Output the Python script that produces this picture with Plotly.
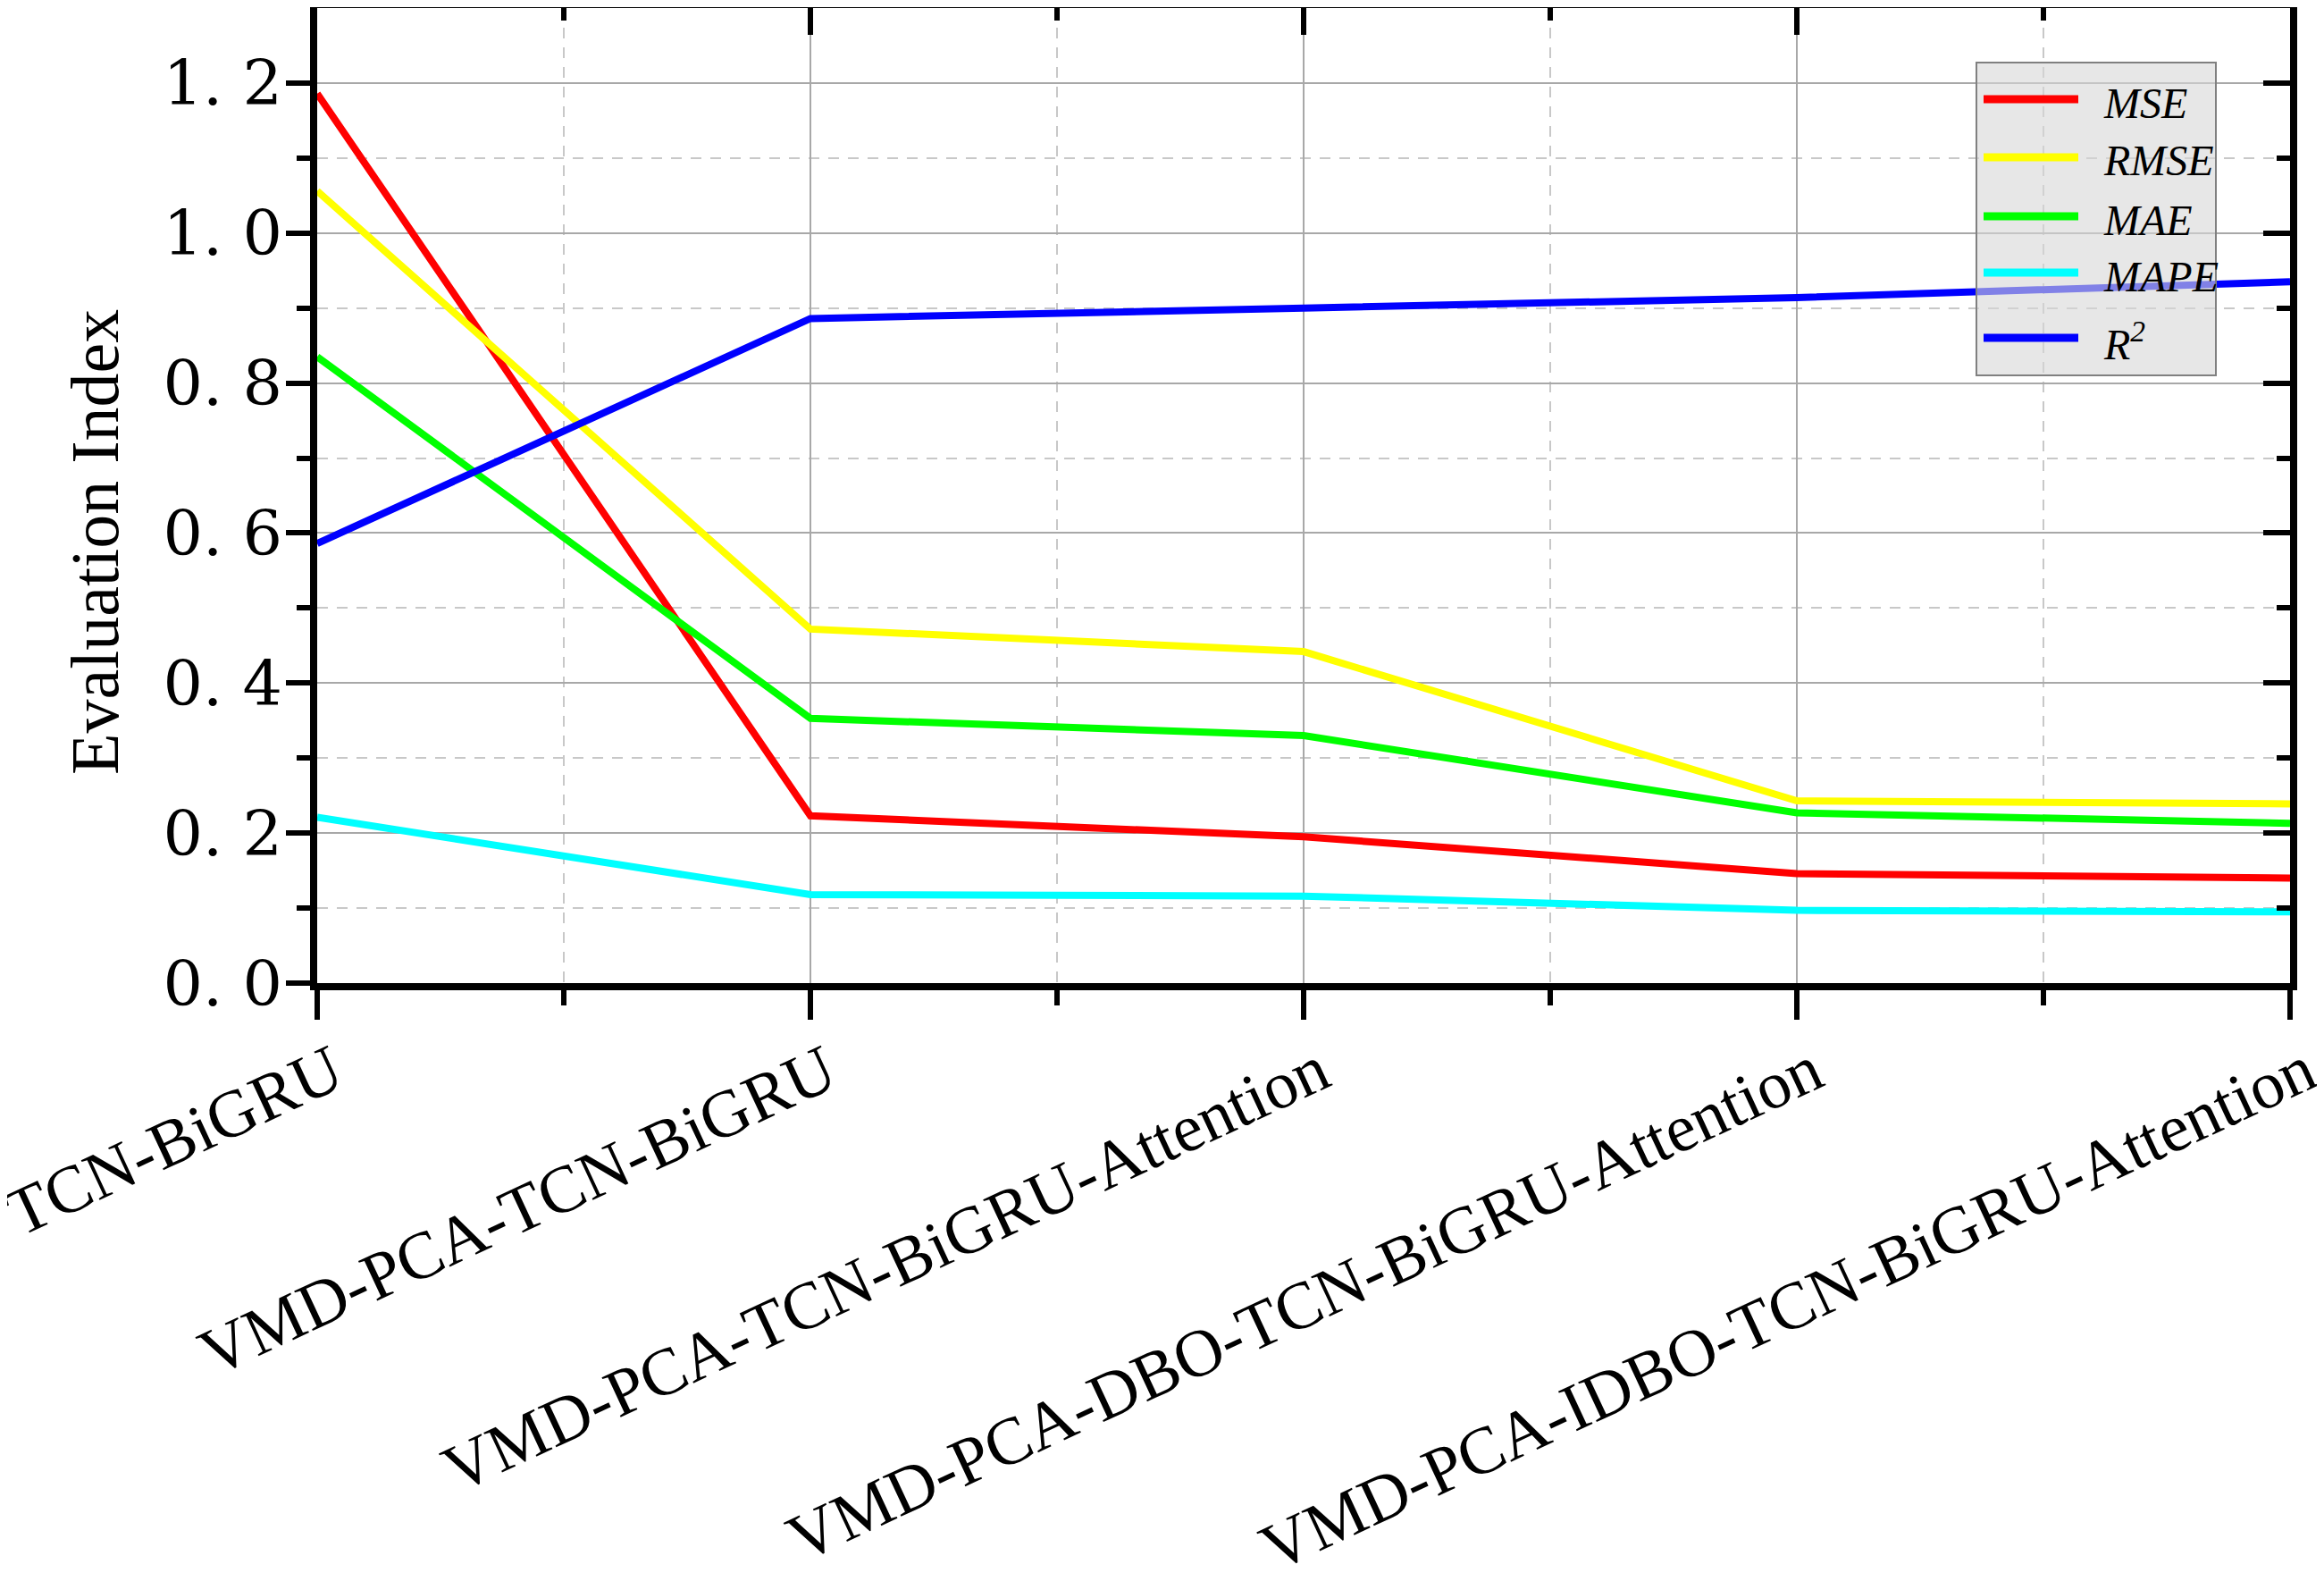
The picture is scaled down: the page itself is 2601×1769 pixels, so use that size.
import plotly.graph_objects as go

models = ["TCN-BiGRU", "VMD-PCA-TCN-BiGRU", "VMD-PCA-TCN-BiGRU-Attention",
          "VMD-PCA-DBO-TCN-BiGRU-Attention", "VMD-PCA-IDBO-TCN-BiGRU-Attention"]
mse = [1.186, 0.223, 0.195, 0.146, 0.140]
rmse = [1.056, 0.472, 0.442, 0.243, 0.239]
mae = [0.835, 0.353, 0.330, 0.227, 0.213]
mape = [0.221, 0.118, 0.116, 0.097, 0.095]
r2 = [0.586, 0.886, 0.900, 0.914, 0.935]
series_names = ["MSE", "RMSE", "MAE", "MAPE", "R<sup>2</sup>"]
series_values = [mse, rmse, mae, mape, r2]
colors = ["#ff0000", "#ffff00", "#00ff00", "#00ffff", "#0000ff"]
y_ticks = [0.0, 0.2, 0.4, 0.6, 0.8, 1.0, 1.2]
y_ticktext = ["0. 0", "0. 2", "0. 4", "0. 6", "0. 8", "1. 0", "1. 2"]

# page body has an 8px margin; layout is given in screen pixels and shifted
OFF = 8
W, H = 2601 - OFF, 1769 - OFF
SL, SR, ST, SB = 355, 2563, 9, 1100
xi = list(range(len(models)))

fig = go.Figure()
for name, vals, c in zip(series_names, series_values, colors):
    fig.add_trace(go.Scatter(x=xi, y=vals, mode="lines", name=name,
                             line=dict(color=c, width=8), showlegend=False))
# dummy trace for mirrored top/right axes
fig.add_trace(go.Scatter(x=[None], y=[None], xaxis="x2", yaxis="y2", showlegend=False, hoverinfo="skip"))

grid_major = "#a8a8a8"
grid_minor = "#c8c8c8"
xminor = [i + 0.5 for i in xi[:-1]]
yminor = [0.1, 0.3, 0.5, 0.7, 0.9, 1.1]

fig.update_layout(
    width=W, height=H,
    margin=dict(l=SL - OFF, r=W - (SR - OFF), t=ST - OFF, b=H - (SB - OFF), autoexpand=False),
    paper_bgcolor="white", plot_bgcolor="white",
    xaxis=dict(range=[0, 4], tickmode="array", tickvals=xi, ticktext=models, automargin=False,
               tickangle=-25, ticks="outside", ticklen=33, tickwidth=6, tickcolor="black",
               ticklabelshift=18, ticklabelstandoff=-14,
               showline=True, linewidth=8, linecolor="black", ticklabeloverflow="allow",
               showgrid=True, gridcolor=grid_major, gridwidth=2, zeroline=False,
               tickfont=dict(family="Liberation Serif", size=75, color="black"),
               minor=dict(tickmode="array", tickvals=xminor, ticks="outside", ticklen=17,
                          tickwidth=6, tickcolor="black", showgrid=True,
                          gridcolor=grid_minor, gridwidth=2, griddash="12px,10px")),
    yaxis=dict(range=[0, 1.3], tickmode="array", tickvals=y_ticks, ticktext=y_ticktext,
               ticks="outside", ticklen=27, tickwidth=6, tickcolor="black", automargin=False,
               ticklabelstandoff=-10,
               showline=True, linewidth=8, linecolor="black",
               showgrid=True, gridcolor=grid_major, gridwidth=2, zeroline=False,
               tickfont=dict(family="DejaVu Serif", size=70, color="black"),
               minor=dict(tickmode="array", tickvals=yminor, ticks="outside", ticklen=15,
                          tickwidth=6, tickcolor="black", showgrid=True,
                          gridcolor=grid_minor, gridwidth=2, griddash="12px,10px")),
    xaxis2=dict(range=[0, 4], overlaying="x", side="top", anchor="y2", automargin=False,
                tickmode="array", tickvals=xi, showticklabels=False,
                ticks="inside", ticklen=30, tickwidth=6, tickcolor="black",
                showline=True, linewidth=8, linecolor="black", showgrid=False, zeroline=False,
                minor=dict(tickmode="array", tickvals=xminor, ticks="inside", ticklen=14,
                           tickwidth=6, tickcolor="black", showgrid=False)),
    yaxis2=dict(range=[0, 1.3], overlaying="y", side="right", anchor="x2", automargin=False,
                tickmode="array", tickvals=y_ticks, showticklabels=False,
                ticks="inside", ticklen=30, tickwidth=6, tickcolor="black",
                showline=True, linewidth=8, linecolor="black", showgrid=False, zeroline=False,
                minor=dict(tickmode="array", tickvals=yminor, ticks="inside", ticklen=15,
                           tickwidth=6, tickcolor="black", showgrid=False)),
)

def px(xp):
    return (xp - SL) / (SR - SL)

def py(yp):
    return (SB - yp) / (SB - ST)

# y axis title
fig.add_annotation(xref="paper", yref="paper", x=px(106), y=py(607), text="Evaluation Index",
                   textangle=-90, showarrow=False, xanchor="center", yanchor="middle",
                   font=dict(family="Liberation Serif", size=76, color="black"))

# custom legend box (semi-transparent, drawn above the lines)
fig.add_shape(type="rect", xref="paper", yref="paper",
              x0=px(2212), x1=px(2480), y0=py(420), y1=py(70),
              fillcolor="rgba(215,215,215,0.6)", line=dict(color="#808080", width=2),
              layer="above")
row_y = [111, 176, 242, 305, 378]
for name, c, yy in zip(series_names, colors, row_y):
    fig.add_shape(type="line", xref="paper", yref="paper",
                  x0=px(2220), x1=px(2326), y0=py(yy), y1=py(yy),
                  line=dict(color=c, width=9), layer="above")
    fig.add_annotation(xref="paper", yref="paper", x=px(2352), y=py(yy + 4),
                       text="<i>" + name + "</i>", showarrow=False,
                       xanchor="left", yanchor="middle",
                       font=dict(family="Liberation Serif", size=48, color="black"))

fig.write_html("out.html")
